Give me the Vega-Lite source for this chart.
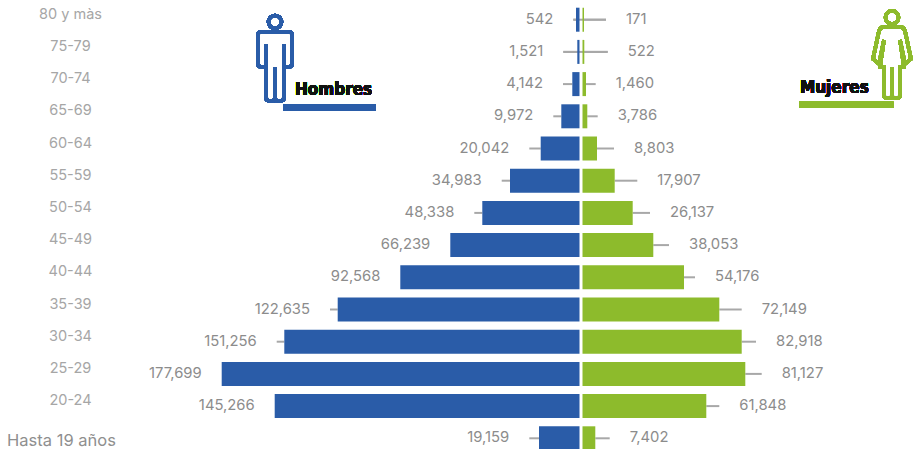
{"$schema":"https://vega.github.io/schema/vega-lite/v6.json","width":913,"height":449,"padding":0,"autosize":{"type":"none"},"background":"white","config":{"view":{"stroke":null}},
"data":{"values":[
{"age":"80 y màs","sex":"Hombres","length":-2500,"reach":-3850,"label":"542"},
{"age":"75-79","sex":"Hombres","length":-1850,"reach":-8850,"label":"1,521"},
{"age":"70-74","sex":"Hombres","length":-4350,"reach":-9000,"label":"4,142"},
{"age":"65-69","sex":"Hombres","length":-9850,"reach":-13850,"label":"9,972"},
{"age":"60-64","sex":"Hombres","length":-20150,"reach":-25850,"label":"20,042"},
{"age":"55-59","sex":"Hombres","length":-35500,"reach":-39650,"label":"34,983"},
{"age":"50-54","sex":"Hombres","length":-49350,"reach":-53350,"label":"48,338"},
{"age":"45-49","sex":"Hombres","length":-65350,"reach":-65350,"label":"66,239"},
{"age":"40-44","sex":"Hombres","length":-90350,"reach":-90350,"label":"92,568"},
{"age":"35-39","sex":"Hombres","length":-121650,"reach":-125500,"label":"122,635"},
{"age":"30-34","sex":"Hombres","length":-148350,"reach":-152150,"label":"151,256"},
{"age":"25-29","sex":"Hombres","length":-179650,"reach":-179650,"label":"177,699"},
{"age":"20-24","sex":"Hombres","length":-153150,"reach":-153150,"label":"145,266"},
{"age":"Hasta 19 años","sex":"Hombres","length":-21000,"reach":-25850,"label":"19,159"},
{"age":"80 y màs","sex":"Mujeres","length":1500,"reach":12500,"label":"171"},
{"age":"75-79","sex":"Mujeres","length":1650,"reach":13350,"label":"522"},
{"age":"70-74","sex":"Mujeres","length":2500,"reach":7350,"label":"1,460"},
{"age":"65-69","sex":"Mujeres","length":3150,"reach":8350,"label":"3,786"},
{"age":"60-64","sex":"Mujeres","length":8000,"reach":16500,"label":"8,803"},
{"age":"55-59","sex":"Mujeres","length":16850,"reach":28150,"label":"17,907"},
{"age":"50-54","sex":"Mujeres","length":25850,"reach":34500,"label":"26,137"},
{"age":"45-49","sex":"Mujeres","length":36150,"reach":44000,"label":"38,053"},
{"age":"40-44","sex":"Mujeres","length":51500,"reach":57000,"label":"54,176"},
{"age":"35-39","sex":"Mujeres","length":69150,"reach":80350,"label":"72,149"},
{"age":"30-34","sex":"Mujeres","length":80350,"reach":87500,"label":"82,918"},
{"age":"25-29","sex":"Mujeres","length":82150,"reach":90350,"label":"81,127"},
{"age":"20-24","sex":"Mujeres","length":62650,"reach":69150,"label":"61,848"},
{"age":"Hasta 19 años","sex":"Mujeres","length":7150,"reach":14350,"label":"7,402"}
]},
"encoding":{
"x":{"type":"quantitative","scale":{"domain":[-290500,166000],"range":[0,913],"nice":false,"zero":false},"axis":null},
"y":{"field":"age","type":"nominal","sort":null}
},
"layer":[
{"mark":{"type":"rule","color":"#a8a8a8","strokeWidth":2},
 "encoding":{"x":{"field":"reach","type":"quantitative","scale":{"domain":[-290500,166000],"range":[0,913],"nice":false,"zero":false},"axis":null},"x2":{"field":"length"},
 "y":{"field":"age","type":"nominal","sort":null,"scale":{"type":"band","domain":["80 y màs","75-79","70-74","65-69","60-64","55-59","50-54","45-49","40-44","35-39","30-34","25-29","20-24","Hasta 19 años"],"range":[3.6,454.4],"paddingInner":0.255,"paddingOuter":0.1275},
 "axis":{"orient":"left","offset":-70,"title":null,"domain":false,"ticks":false,"labelPadding":0,"labelAlign":"center","labelBaseline":"middle","labelOffset":-5,"labelFont":"Inter","labelFontSize":14.5,"labelColor":"#a6a6a6","labelExpr":"datum.value == 'Hasta 19 años' ? '' : datum.label"}}}},
{"transform":[{"filter":"datum.age == '80 y màs' || datum.age == '75-79'"}],
 "mark":{"type":"rule","color":"#a8a8a8","strokeWidth":2},
 "encoding":{"x":{"field":"reach","type":"quantitative"},"x2":{"datum":0},
 "y":{"field":"age","type":"nominal","sort":null,"axis":{"orient":"left","offset":-61,"title":null,"domain":false,"ticks":false,"labelPadding":0,"labelAlign":"center","labelBaseline":"middle","labelOffset":3,"labelFont":"Inter","labelFontSize":16.5,"labelColor":"#8f8f8f","labelExpr":"datum.value == 'Hasta 19 años' ? datum.label : ''"}}}},
{"transform":[{"filter":"datum.sex == 'Hombres'"}],
 "mark":{"type":"bar","color":"#2a5ca8"},
 "encoding":{"x":{"field":"length","type":"quantitative"},"x2":{"datum":-750},"y":{"field":"age","type":"nominal","sort":null,"axis":null}}},
{"transform":[{"filter":"datum.sex == 'Mujeres'"}],
 "mark":{"type":"bar","color":"#8dbb2c"},
 "encoding":{"x":{"field":"length","type":"quantitative"},"x2":{"datum":750},"y":{"field":"age","type":"nominal","sort":null,"axis":null}}},
{"transform":[{"filter":"datum.sex == 'Hombres'"}],
 "mark":{"type":"text","align":"right","baseline":"middle","dx":-20,"font":"Inter","fontSize":14.8,"color":"#8c8c8c"},
 "encoding":{"x":{"field":"reach","type":"quantitative"},"y":{"field":"age","type":"nominal","sort":null,"axis":null},"text":{"field":"label"}}},
{"transform":[{"filter":"datum.sex == 'Mujeres'"}],
 "mark":{"type":"text","align":"left","baseline":"middle","dx":20,"font":"Inter","fontSize":14.8,"color":"#8c8c8c"},
 "encoding":{"x":{"field":"reach","type":"quantitative"},"y":{"field":"age","type":"nominal","sort":null,"axis":null},"text":{"field":"label"}}},
{"mark":{"type":"rule","color":"#2a5ca8","strokeWidth":6,"yOffset":-8.5},
 "encoding":{"x":{"datum":-149000,"type":"quantitative"},"x2":{"datum":-102500},"y":{"datum":"65-69","type":"nominal","axis":null}}},
{"mark":{"type":"rule","color":"#8dbb2c","strokeWidth":6,"yOffset":-11.5},
 "encoding":{"x":{"datum":109150,"type":"quantitative"},"x2":{"datum":156150},"y":{"datum":"65-69","type":"nominal","axis":null}}},
{"mark":{"type":"text","text":"Hombres","align":"left","baseline":"middle","dy":6,"font":"DejaVu Sans Condensed","fontWeight":"bold","fontSize":17,"color":"#111111"},
 "encoding":{"x":{"datum":-143000,"type":"quantitative"},"y":{"datum":"70-74","type":"nominal","axis":null}}},
{"mark":{"type":"text","text":"Mujeres","align":"left","baseline":"middle","dy":4,"font":"DejaVu Sans Condensed","fontWeight":"bold","fontSize":17,"color":"#111111"},
 "encoding":{"x":{"datum":109500,"type":"quantitative"},"y":{"datum":"70-74","type":"nominal","axis":null}}},
{"mark":{"type":"point","filled":false,"size":4,"opacity":1,"stroke":"#2a5ca8","strokeWidth":3.5,"shape":"M-14,-20 H14 Q17,-20 17,-17 V12 Q17,15 13,15 H9 V-8 V45 Q9,49 5,49 H3 Q0,49 0,45 V15 V45 Q0,49 -3,49 H-5 Q-9,49 -9,45 V-8 V15 H-13 Q-17,15 -17,12 V-17 Q-17,-20 -14,-20 Z M6.5,-30 A6.5,6.5 0 1 0 -6.5,-30 A6.5,6.5 0 1 0 6.5,-30 Z"},
 "encoding":{"x":{"datum":-153000,"type":"quantitative"},"y":{"datum":"75-79","type":"nominal","axis":null}}},
{"mark":{"type":"point","filled":false,"size":4,"opacity":1,"stroke":"#8dbb2c","strokeWidth":3.5,"shape":"M-8,-25 H8 Q12,-25 13,-21 L19,7 L13,12 L8,-12 L12,15 H8 V43 Q8,46 5,46 H3 Q0,46 0,43 V15 V43 Q0,46 -3,46 H-5 Q-8,46 -8,43 V15 H-12 L-8,-12 L-13,12 L-19,7 L-13,-21 Q-12,-25 -8,-25 Z M6.5,-34.5 A6.5,6.5 0 1 0 -6.5,-34.5 A6.5,6.5 0 1 0 6.5,-34.5 Z"},
 "encoding":{"x":{"datum":155500,"type":"quantitative"},"y":{"datum":"75-79","type":"nominal","axis":null}}}
],
"resolve":{"axis":{"y":"independent"}}
}
